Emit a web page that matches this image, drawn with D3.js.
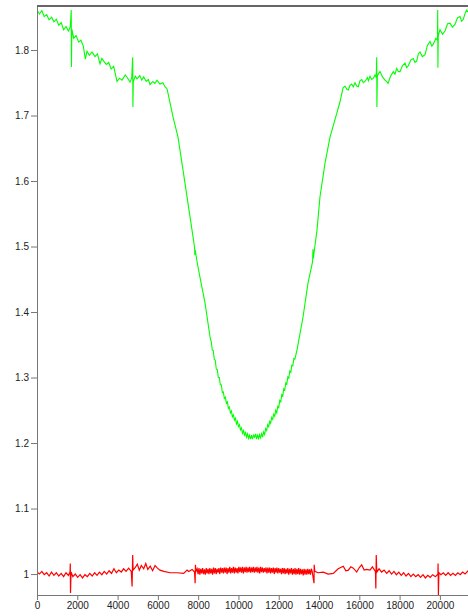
<!DOCTYPE html>
<html>
<head>
<meta charset="utf-8">
<script src="https://cdn.jsdelivr.net/npm/d3@7"></script>
<style>
  body { margin: 0; background: #fff; }
  .axis text { font-family: "Liberation Sans", Arial, sans-serif; font-size: 10px; fill: #222; }
  .axis path, .axis line { stroke: #777; }
</style>
</head>
<body>
<div class="chart"></div>
<script>
// values
var xTicks = [0, 2000, 4000, 6000, 8000, 10000, 12000, 14000, 16000, 18000, 20000];
var yTicks = [1, 1.1, 1.2, 1.3, 1.4, 1.5, 1.6, 1.7, 1.8];
var xDomain = [0, 21395];
var yDomain = [0.968, 1.8672];

// green trace (upper curve)
var greenTrace = [
  [0,1.861],[120,1.855],[240,1.860],[360,1.851],[480,1.854],[600,1.846],[720,1.850],[840,1.843],
  [960,1.847],[1080,1.838],[1200,1.842],[1320,1.831],[1440,1.836],[1560,1.829],[1650,1.835],
  [1700,1.861],[1710,1.774],[1730,1.832],[1820,1.818],[1940,1.822],[2068,1.812],[2180,1.815],
  [2300,1.806],[2400,1.786],[2482,1.798],[2600,1.792],[2730,1.797],[2879,1.790],[3000,1.794],
  [3127,1.779],[3220,1.787],[3310,1.783],[3440,1.778],[3559,1.781],[3680,1.771],[3807,1.775],
  [3971,1.752],[4100,1.757],[4219,1.754],[4385,1.762],[4500,1.757],[4617,1.751],[4700,1.757],
  [4750,1.789],[4760,1.713],[4780,1.752],[4880,1.760],[4964,1.756],[5100,1.761],[5200,1.754],
  [5297,1.759],[5420,1.752],[5530,1.755],[5609,1.747],[5750,1.752],[5850,1.749],[5957,1.754],
  [6100,1.748],[6250,1.750],[6350,1.744],[6453,1.741],[6600,1.720],[6751,1.698],[6999,1.667],
  [7247,1.617],[7496,1.566],[7744,1.515],[7820,1.499],[7835,1.487],[7850,1.495],[7950,1.476],
  [8091,1.453],[8340,1.414],[8600,1.360],
  [8650,1.355],[8700,1.342],[8750,1.341],[8800,1.328],[8850,1.326],[8900,1.313],[8950,1.312],
  [9000,1.300],[9050,1.300],[9100,1.289],[9150,1.289],[9200,1.277],[9250,1.278],[9300,1.268],
  [9350,1.270],[9400,1.261],[9450,1.263],[9500,1.253],[9550,1.255],[9600,1.246],[9650,1.249],
  [9700,1.240],[9750,1.243],[9800,1.235],[9850,1.238],[9900,1.229],[9950,1.233],[10000,1.225],
  [10050,1.228],[10100,1.220],[10150,1.223],[10200,1.215],[10250,1.219],[10300,1.212],
  [10350,1.216],[10400,1.209],[10450,1.214],[10500,1.207],[10550,1.212],[10600,1.206],
  [10650,1.212],[10700,1.206],[10750,1.212],[10800,1.209],[10850,1.214],[10900,1.206],
  [10950,1.212],[11000,1.207],[11050,1.213],[11100,1.208],[11150,1.214],[11200,1.209],
  [11250,1.217],[11300,1.213],[11350,1.222],[11400,1.219],[11450,1.228],[11500,1.225],
  [11550,1.233],[11600,1.230],[11650,1.239],[11700,1.236],[11750,1.244],[11800,1.241],
  [11850,1.250],[11900,1.246],[11950,1.256],[12000,1.254],[12050,1.265],[12100,1.263],
  [12150,1.274],[12200,1.272],[12250,1.283],[12300,1.281],[12350,1.292],[12400,1.290],
  [12450,1.301],[12500,1.299],[12550,1.310],[12600,1.308],[12650,1.319],[12700,1.318],
  [12750,1.329],[12800,1.328],[12906,1.342],
  [13204,1.392],[13452,1.444],[13680,1.477],[13700,1.496],[13720,1.482],[13760,1.492],
  [13899,1.525],[14048,1.576],[14296,1.627],[14545,1.667],[14877,1.703],[15041,1.721],
  [15190,1.742],[15289,1.745],[15380,1.740],[15454,1.739],[15540,1.746],[15620,1.748],
  [15700,1.744],[15786,1.750],[15870,1.745],[15951,1.744],[16030,1.753],[16117,1.755],
  [16200,1.750],[16282,1.752],[16400,1.758],[16450,1.753],[16530,1.760],[16610,1.755],
  [16696,1.757],[16780,1.762],[16840,1.758],[16863,1.789],[16873,1.713],[16895,1.760],
  [16950,1.764],[17027,1.767],[17150,1.759],[17275,1.754],[17350,1.752],[17424,1.749],
  [17550,1.760],[17688,1.767],[17770,1.763],[17855,1.772],[17940,1.767],[18020,1.767],
  [18140,1.776],[18268,1.780],[18350,1.773],[18433,1.776],[18560,1.785],[18681,1.787],
  [18760,1.781],[18847,1.783],[18930,1.794],[19012,1.797],[19130,1.790],[19260,1.793],
  [19380,1.807],[19509,1.813],[19600,1.806],[19674,1.809],[19800,1.818],[19880,1.815],
  [19891,1.861],[19901,1.773],[19920,1.822],[20005,1.831],[20130,1.824],[20253,1.829],
  [20380,1.840],[20502,1.841],[20620,1.835],[20750,1.839],[20870,1.849],[20998,1.851],
  [21080,1.844],[21163,1.847],[21250,1.856],[21328,1.861],[21395,1.858]
];

// red trace (lower curve)
var redTrace = [
  [0,1.003],[120,1.000],[240,1.004],[360,0.999],[480,1.002],[600,0.997],[720,1.003],[840,0.998],
  [960,1.002],[1080,0.997],[1200,1.001],[1320,0.996],[1440,1.002],[1560,0.998],[1640,1.003],
  [1653,1.016],[1663,0.971],[1690,1.003],[1780,0.996],[1900,1.000],[2020,0.995],[2140,0.999],
  [2260,0.994],[2380,0.999],[2500,0.996],[2620,1.001],[2740,0.997],[2860,1.002],[2980,0.998],
  [3100,1.003],[3220,0.999],[3340,1.004],[3460,1.000],[3580,1.005],[3700,1.001],[3820,1.008],
  [3940,1.002],[4060,1.006],[4180,1.003],[4300,1.008],[4420,1.004],[4550,1.009],[4680,1.004],
  [4720,0.981],[4750,1.029],[4770,1.006],[4880,1.010],[4980,1.015],[5080,1.006],[5180,1.013],
  [5295,1.008],[5400,1.016],[5500,1.007],[5620,1.012],[5740,1.005],[5860,1.013],[5980,1.009],
  [6100,1.006],[6300,1.004],[6600,1.002],[6950,1.002],[7280,1.001],[7450,1.006],[7530,1.004],
  [7700,1.007],[7820,1.003],[7850,0.986],[7865,1.014],[7890,1.004],
  [7950,1.008],[7995,1.000],[8040,1.009],[8085,0.999],[8130,1.008],[8175,1.001],[8220,1.009],[8265,1.000],
  [8310,1.007],[8355,0.999],[8400,1.009],[8445,1.001],[8490,1.008],[8535,1.000],[8580,1.009],[8625,1.001],
  [8670,1.008],[8715,0.999],[8760,1.010],[8805,1.001],[8850,1.009],[8895,1.000],[8940,1.008],[8985,1.002],
  [9030,1.009],[9075,1.000],[9120,1.010],[9165,1.002],[9210,1.009],[9255,1.001],[9300,1.010],[9345,1.002],
  [9390,1.010],[9435,1.000],[9480,1.009],[9525,1.002],[9570,1.011],[9615,1.001],[9660,1.009],[9705,1.002],
  [9750,1.011],[9795,1.001],[9840,1.010],[9885,1.002],[9930,1.009],[9975,1.001],[10020,1.011],[10065,1.003],
  [10110,1.010],[10155,1.002],[10200,1.011],[10245,1.001],[10290,1.010],[10335,1.003],[10380,1.011],[10425,1.002],
  [10470,1.010],[10515,1.003],[10560,1.011],[10605,1.002],[10650,1.010],[10695,1.003],[10740,1.011],[10785,1.002],
  [10830,1.010],[10875,1.003],[10920,1.011],[10965,1.002],[11010,1.010],[11055,1.001],[11100,1.011],[11145,1.003],
  [11190,1.010],[11235,1.002],[11280,1.009],[11325,1.003],[11370,1.010],[11415,1.001],[11460,1.010],[11505,1.002],
  [11550,1.010],[11595,1.001],[11640,1.009],[11685,1.002],[11730,1.010],[11775,1.000],[11820,1.009],[11865,1.002],
  [11910,1.010],[11955,1.001],[12000,1.009],[12045,1.002],[12090,1.008],[12135,1.000],[12180,1.009],[12225,1.001],
  [12270,1.009],[12315,1.000],[12360,1.008],[12405,1.001],[12450,1.009],[12495,0.999],[12540,1.008],[12585,1.001],
  [12630,1.009],[12675,0.999],[12720,1.008],[12765,1.000],[12810,1.009],[12855,0.999],[12900,1.008],[12945,1.000],
  [12990,1.009],[13035,0.999],[13080,1.008],[13125,1.000],[13170,1.007],[13215,0.998],[13260,1.008],[13305,0.999],
  [13350,1.007],[13395,0.999],[13440,1.008],[13485,1.000],[13530,1.007],[13575,0.999],[13620,1.008],
  [13660,1.004],[13750,0.986],[13760,1.014],[13790,1.004],[13950,1.002],[14213,1.003],[14450,1.000],
  [14710,1.001],[14950,1.008],[15205,1.012],[15330,1.005],[15454,1.006],[15580,1.011],[15702,1.009],
  [15869,1.003],[16000,1.010],[16117,1.014],[16240,1.006],[16366,1.007],[16530,1.006],[16650,1.011],
  [16800,1.004],[16820,0.978],[16840,1.029],[16870,1.003],[16980,1.008],[17110,1.003],[17230,1.006],
  [17360,1.001],[17480,1.005],[17600,1.000],[17720,1.004],[17840,0.999],[17960,1.003],[18080,0.998],
  [18200,1.002],[18320,0.997],[18440,1.001],[18560,0.996],[18680,1.000],[18800,0.996],[18920,0.999],
  [19040,0.995],[19160,0.999],[19280,0.994],[19400,0.998],[19520,0.995],[19640,0.999],[19780,0.996],
  [19900,1.000],[19910,1.016],[19925,0.968],[19950,1.002],[20050,0.999],[20170,1.002],[20290,0.998],
  [20410,1.002],[20530,0.998],[20650,1.001],[20770,0.998],[20890,1.002],[21010,0.999],[21130,1.003],
  [21250,1.000],[21395,1.005]
];

// svg
var margin = {top: 6, right: 0, bottom: 21, left: 37};
var width = 468 - margin.left - margin.right;
var height = 616 - margin.top - margin.bottom;

var svg = d3.select('.chart')
  .append('svg')
  .attr('width', 468)
  .attr('height', 616)
  .append('g')
  .attr('transform', 'translate(' + margin.left + ',' + margin.top + ')');

var xScale = d3.scaleLinear().domain(xDomain).range([0, width]);
var yScale = d3.scaleLinear().domain(yDomain).range([height, 0]);

svg.append('clipPath').attr('id', 'plotClip')
  .append('rect')
  .attr('width', width)
  .attr('height', height);

var line = d3.line()
  .x(function(d){ return xScale(d[0]); })
  .y(function(d){ return yScale(d[1]); });

svg.append('path')
  .datum(greenTrace)
  .attr('clip-path', 'url(#plotClip)')
  .attr('fill', 'none')
  .attr('stroke', '#00ff00')
  .attr('stroke-width', 1.1)
  .attr('d', line);

svg.append('path')
  .datum(redTrace)
  .attr('clip-path', 'url(#plotClip)')
  .attr('fill', 'none')
  .attr('stroke', '#ff0000')
  .attr('stroke-width', 1.2)
  .attr('d', line);

// axes
svg.append('g')
  .attr('class', 'axis')
  .call(d3.axisLeft(yScale).tickValues(yTicks).tickSize(6).tickSizeOuter(0).tickPadding(2)
    .tickFormat(d3.format('~g')));

svg.append('g')
  .attr('class', 'axis')
  .attr('transform', 'translate(0,' + height + ')')
  .call(d3.axisBottom(xScale).tickValues(xTicks).tickSize(5).tickSizeOuter(0).tickPadding(2)
    .tickFormat(d3.format('d')));

// top border
svg.append('line')
  .attr('x1', 0).attr('x2', width)
  .attr('y1', 0).attr('y2', 0)
  .attr('stroke', '#666')
  .attr('stroke-width', 2);
</script>
</body>
</html>
